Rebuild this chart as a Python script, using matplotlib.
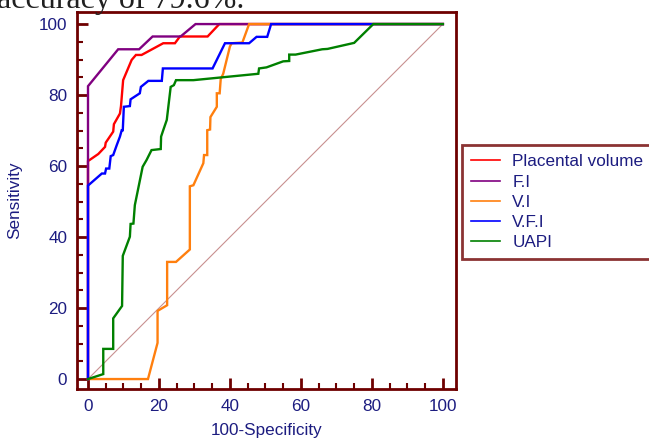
import matplotlib
matplotlib.use('Agg')
import matplotlib.pyplot as plt
from matplotlib.ticker import MultipleLocator

plt.rcParams['font.family'] = ['Liberation Sans', 'DejaVu Sans']

# ROC curves: (100-specificity, sensitivity)
pv_x = [0, 0, 2.9, 4.8, 5.0, 7.1, 7.3, 9.0, 9.3, 9.9, 12.3, 13.5, 15.1, 21.2, 24.5, 25.9, 33.7, 37.0, 100]
pv_y = [0, 61.4, 63.4, 65.4, 66.6, 69.7, 71.8, 74.8, 76.9, 84.2, 89.9, 91.3, 91.3, 94.6, 94.6, 96.5, 96.5, 100, 100]

fi_x = [0, 0, 8.5, 14.4, 18.2, 26.1, 30.3, 100]
fi_y = [0, 82.5, 92.9, 92.9, 96.5, 96.5, 100, 100]

vi_x = [0, 16.9, 19.6, 19.6, 22.3, 22.3, 24.8, 28.7, 28.7, 29.7, 32.5, 32.7, 33.6, 33.6, 34.4, 34.5,
        36.3, 36.3, 37.1, 37.4, 38.1, 40.0, 40.5, 43.5, 45.4, 100]
vi_y = [0, 0, 10.2, 19.2, 20.8, 33.0, 33.0, 36.5, 54.3, 54.6, 60.8, 63.1, 63.1, 70.1, 70.3, 73.8,
        76.7, 80.5, 80.5, 84.5, 86.0, 93.7, 94.6, 94.8, 100, 100]

vfi_x = [0, 0, 3.9, 4.8, 5.1, 6.0, 6.4, 7.1, 8.1, 9.0, 9.5, 9.8, 10.1, 11.8, 12.0, 14.6, 14.9, 17.0,
         20.8, 21.1, 35.1, 38.6, 45.4, 47.5, 50.5, 51.6, 100]
vfi_y = [0, 54.5, 57.9, 57.9, 59.3, 59.3, 62.8, 63.1, 65.9, 68.3, 70.1, 70.1, 76.7, 76.9, 78.8, 80.5,
         82.3, 84.0, 84.0, 87.5, 87.5, 94.6, 94.6, 96.4, 96.4, 100, 100]

uapi_x = [0, 4.3, 4.3, 7.1, 7.1, 9.6, 9.8, 11.8, 12.0, 12.8, 13.2, 15.4, 16.5, 17.9, 20.5, 20.6, 21.2,
          22.2, 23.3, 24.2, 24.8, 29.7, 48.0, 48.2, 50.3, 55.0, 56.7, 56.7, 58.5, 66.0, 67.5, 75.0, 80.4, 100]
uapi_y = [0, 1.4, 8.5, 8.5, 17.1, 20.6, 34.7, 40.1, 43.7, 43.8, 49.0, 59.8, 61.7, 64.5, 64.8, 68.3, 70.1,
          73.0, 82.3, 82.8, 84.2, 84.2, 86.0, 87.5, 87.8, 89.5, 89.6, 91.4, 91.4, 92.9, 93.0, 94.7, 100, 100]

names = ['Placental volume', 'F.I', 'V.I', 'V.F.I', 'UAPI']
colors = ['#ff0000', '#800080', '#ff7f0e', '#0000ff', '#008000']

maroon = '#6e0000'
navy = '#1c1c80'

fig = plt.figure(figsize=(6.49, 4.40), dpi=100)
ax = fig.add_axes([77 / 649, 1 - 389 / 440, (456 - 77) / 649, (389 - 12) / 440])

ax.plot([0, 100], [0, 100], color='#c89090', linewidth=0.8, zorder=1)

curves = [(pv_x, pv_y), (fi_x, fi_y), (vi_x, vi_y), (vfi_x, vfi_y), (uapi_x, uapi_y)]
for (xs, ys), name, c in zip(curves, names, colors):
    ax.plot(xs, ys, color=c, linewidth=1.7, label=name, solid_joinstyle='miter')

ax.set_xlim(-3.1, 103.7)
ax.set_ylim(-2.8, 103.4)
ax.xaxis.set_major_locator(MultipleLocator(20))
ax.yaxis.set_major_locator(MultipleLocator(20))
ax.xaxis.set_minor_locator(MultipleLocator(5))
ax.yaxis.set_minor_locator(MultipleLocator(5))
ax.tick_params(which='major', direction='in', length=8, width=2, color=maroon,
               labelcolor=navy, labelsize=12.3, pad=7)
ax.tick_params(which='minor', direction='in', length=4, width=1.5, color=maroon)
for s in ax.spines.values():
    s.set_color(maroon)
    s.set_linewidth(2)

ax.set_xlabel('100-Specificity', color=navy, fontsize=12.3, labelpad=7)
ax.set_ylabel('Sensitivity', color=navy, fontsize=12.3, labelpad=12)

# legend box runs off the right edge, as in the source
leg = ax.legend(loc='upper left', bbox_to_anchor=(462 / 649, 0, 0.35, 1 - 145 / 440),
                bbox_transform=fig.transFigure, mode='expand', borderaxespad=0, fontsize=12.3,
                frameon=True, fancybox=False, handlelength=1.7, handletextpad=0.7,
                labelspacing=0.3, borderpad=0.55, labelcolor=navy)
leg.get_frame().set_edgecolor(maroon)
leg.get_frame().set_linewidth(2)
for h in leg.get_lines():
    h.set_linewidth(1.2)

# caption text from the page, cut off at the top edge
fig.text(-0.005, 1 - 8 / 440, 'accuracy of 79.6%.', family='Liberation Serif', fontsize=23,
         va='baseline', ha='left', color='#202020')

fig.savefig('out.png', dpi=100)
